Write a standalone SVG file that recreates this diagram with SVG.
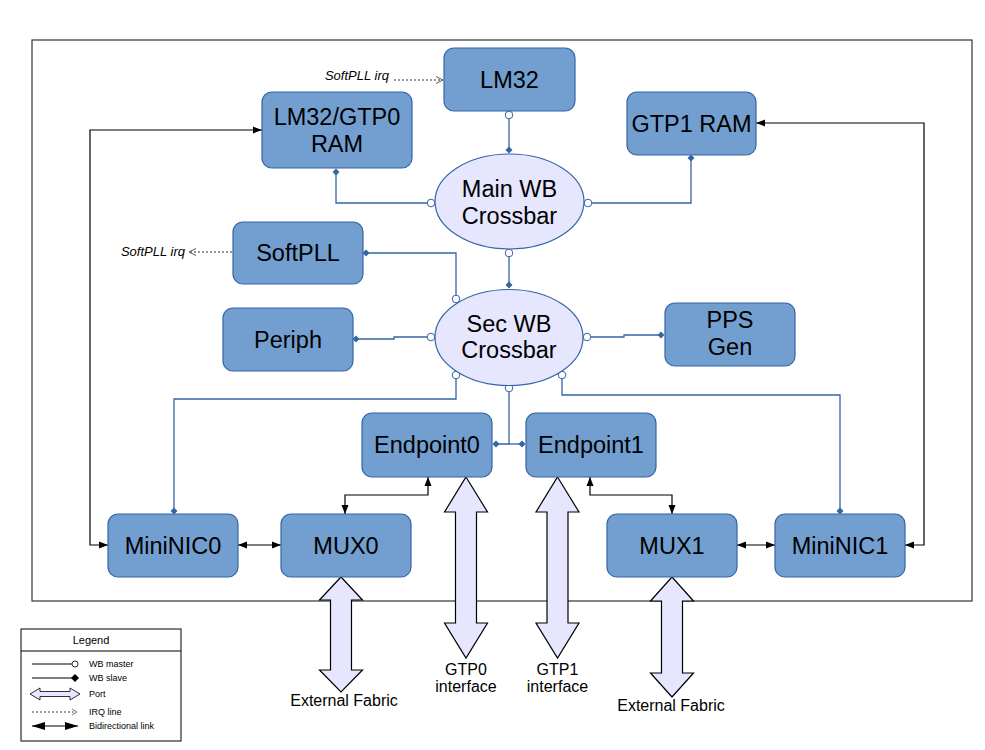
<svg xmlns="http://www.w3.org/2000/svg" width="985" height="750" viewBox="0 0 985 750">
<style>
.node{fill:#729fcf;stroke:#3465a4;stroke-width:1.2}
.xbar{fill:#e6e6ff;stroke:#3465a4;stroke-width:1.2}
.lbl{font-family:"Liberation Sans",Arial,sans-serif;font-size:23.5px;fill:#000;text-anchor:middle}
.wb{fill:none;stroke:#3465a4;stroke-width:1.3;marker-start:url(#master);marker-end:url(#slave)}
.wbs{fill:none;stroke:#3465a4;stroke-width:1.3;marker-end:url(#slave)}
.bi{fill:none;stroke:#000;stroke-width:1.2;marker-start:url(#arr);marker-end:url(#arr)}
.irq{fill:none;stroke:#333;stroke-width:1;stroke-dasharray:2,2;marker-end:url(#open)}
.port{fill:#e6e6ff;stroke:#000;stroke-width:1.2}
.ital{font-family:"Liberation Sans",Arial,sans-serif;font-size:13px;font-style:italic;fill:#000}
.ext{font-family:"Liberation Sans",Arial,sans-serif;font-size:16px;fill:#000;text-anchor:middle}
.leg{font-family:"Liberation Sans",Arial,sans-serif;font-size:9px;fill:#000}
</style>
<defs>
<marker id="master" markerUnits="userSpaceOnUse" markerWidth="10" markerHeight="10" refX="5" refY="5" orient="auto"><circle cx="5" cy="5" r="3.8" fill="#fff" stroke="#3465a4" stroke-width="1"/></marker>
<marker id="slave" markerUnits="userSpaceOnUse" markerWidth="10" markerHeight="10" refX="5" refY="5" orient="auto"><path d="M1.5,5 L5,1.5 L8.5,5 L5,8.5 z" fill="#3465a4"/></marker>
<marker id="arr" markerUnits="userSpaceOnUse" markerWidth="10" markerHeight="8" refX="9" refY="4" orient="auto-start-reverse"><path d="M0,0.5 L9,4 L0,7.5 z" fill="#000"/></marker>
<marker id="open" markerUnits="userSpaceOnUse" markerWidth="9" markerHeight="9" refX="8" refY="4.5" orient="auto"><path d="M1,1 L8,4.5 L1,8" fill="none" stroke="#555" stroke-width="1"/></marker>
<marker id="marrL" markerUnits="userSpaceOnUse" markerWidth="14" markerHeight="10" refX="13" refY="5" orient="auto-start-reverse"><path d="M0,1 L13,5 L0,9 z" fill="#000"/></marker>
</defs>
<rect x="0" y="0" width="985" height="750" fill="#fff"/>
<rect id="frame" x="32" y="40" width="940" height="561" fill="none" stroke="#333" stroke-width="1.2"/>

<g id="connectors">
<path class="wb" d="M509,115 V150"/>
<path class="wb" d="M431,203 H336 V172"/>
<path class="wb" d="M588,203 H691 V158"/>
<path class="wb" d="M509,253 V285"/>
<path class="wb" d="M456,299 V253 H366"/>
<path class="wb" d="M431,337 H394 V339 H356"/>
<path class="wb" d="M587,337 H624 V335 H661"/>
<path class="wb" d="M456,375 V399 H174 V511"/>
<path class="wb" d="M562,375 V395 H840 V511"/>
<path class="wb" d="M509,388 V444 H496"/>
<path class="wbs" d="M509,444 H522"/>
<path class="bi" d="M262,130 H90 V545 H108"/>
<path class="bi" d="M756,123 H924 V545 H905"/>
<path class="bi" d="M238,545 H281"/>
<path class="bi" d="M737,545 H775"/>
<path class="bi" d="M345,514 V495 H428 V477"/>
<path class="bi" d="M590,477 V495 H672 V514"/>
<path class="irq" d="M394,80 H443"/>
<path class="irq" d="M232,252 H189"/>
<polygon class="port" points="341,577 362.5,600 351.5,600 351.5,670 362.5,670 341,692 319.5,670 330.5,670 330.5,600 319.5,600"/>
<polygon class="port" points="466,477 487.5,512 476.5,512 476.5,623 487.5,623 466,658 444.5,623 455.5,623 455.5,512 444.5,512"/>
<polygon class="port" points="557.5,477 579,512 568,512 568,623 579,623 557.5,658 536,623 547,623 547,512 536,512"/>
<polygon class="port" points="672,577 693.5,601 682.5,601 682.5,673 693.5,673 672,697 650.5,673 661.5,673 661.5,601 650.5,601"/>
</g>

<g id="lm32"><rect class="node" x="444" y="48" width="131" height="63" rx="10"/><text class="lbl" x="509.5" y="88">LM32</text></g>
<g id="lm32ram"><rect class="node" x="262" y="92" width="150" height="76" rx="10"/><text class="lbl" x="337" y="125">LM32/GTP0</text><text class="lbl" x="337" y="152">RAM</text></g>
<g id="gtp1ram"><rect class="node" x="627" y="92" width="129" height="63" rx="10"/><text class="lbl" x="691.5" y="132">GTP1 RAM</text></g>
<g id="mainxbar"><ellipse class="xbar" cx="509.5" cy="201.5" rx="74.5" ry="47.5"/><text class="lbl" x="509.5" y="197">Main WB</text><text class="lbl" x="509.5" y="224">Crossbar</text></g>
<g id="softpll"><rect class="node" x="233" y="222" width="130" height="62" rx="10"/><text class="lbl" x="298" y="261">SoftPLL</text></g>
<g id="periph"><rect class="node" x="223" y="308" width="130" height="63" rx="10"/><text class="lbl" x="288" y="348">Periph</text></g>
<g id="secxbar"><ellipse class="xbar" cx="509" cy="337.5" rx="74" ry="48"/><text class="lbl" x="509" y="332">Sec WB</text><text class="lbl" x="509" y="358">Crossbar</text></g>
<g id="ppsgen"><rect class="node" x="665" y="303" width="130" height="63" rx="10"/><text class="lbl" x="730" y="328">PPS</text><text class="lbl" x="730" y="355">Gen</text></g>
<g id="endpoint0"><rect class="node" x="362" y="413" width="130" height="64" rx="10"/><text class="lbl" x="427" y="453">Endpoint0</text></g>
<g id="endpoint1"><rect class="node" x="526" y="413" width="130" height="64" rx="10"/><text class="lbl" x="591" y="453">Endpoint1</text></g>
<g id="mininic0"><rect class="node" x="108" y="514" width="130" height="63" rx="10"/><text class="lbl" x="173" y="554">MiniNIC0</text></g>
<g id="mux0"><rect class="node" x="281" y="514" width="130" height="63" rx="10"/><text class="lbl" x="346" y="554">MUX0</text></g>
<g id="mux1"><rect class="node" x="607" y="514" width="130" height="63" rx="10"/><text class="lbl" x="672" y="554">MUX1</text></g>
<g id="mininic1"><rect class="node" x="775" y="514" width="130" height="63" rx="10"/><text class="lbl" x="840" y="554">MiniNIC1</text></g>

<g id="labels">
<text class="ital" x="389" y="80" text-anchor="end">SoftPLL irq</text>
<text class="ital" x="185" y="256" text-anchor="end">SoftPLL irq</text>
<text class="ext" x="344" y="706">External Fabric</text>
<text class="ext" x="466" y="675">GTP0</text>
<text class="ext" x="466" y="692">interface</text>
<text class="ext" x="557.5" y="675">GTP1</text>
<text class="ext" x="557.5" y="692">interface</text>
<text class="ext" x="671" y="711">External Fabric</text>
</g>

<g id="legend">
<rect x="21" y="629" width="160" height="112" fill="#fff" stroke="#000" stroke-width="1"/>
<line x1="21" y1="651" x2="181" y2="651" stroke="#000" stroke-width="1"/>
<text x="91" y="644" text-anchor="middle" style="font-family:'Liberation Sans',Arial,sans-serif;font-size:11px">Legend</text>
<line x1="32" y1="664" x2="72" y2="664" stroke="#000" stroke-width="1"/>
<circle cx="75" cy="664" r="3" fill="#fff" stroke="#000" stroke-width="0.8"/>
<line x1="32" y1="678" x2="73" y2="678" stroke="#000" stroke-width="1"/>
<path d="M71,678 L75,674 L79,678 L75,682 z" fill="#000"/>
<polygon points="30,694 40,688 40,691.5 70,691.5 70,688 80,694 70,700 70,696.5 40,696.5 40,700" fill="#e6e6ff" stroke="#000" stroke-width="0.8"/>
<path d="M32,712 H76" fill="none" stroke="#444" stroke-width="1" stroke-dasharray="2,2"/>
<path d="M72,709 L77,712 L72,715" fill="none" stroke="#555" stroke-width="0.8"/>
<path d="M32,726 H78" fill="none" stroke="#000" stroke-width="1.2" marker-start="url(#marrL)" marker-end="url(#marrL)"/>
<text class="leg" x="89" y="667">WB master</text>
<text class="leg" x="89" y="681">WB slave</text>
<text class="leg" x="89" y="697">Port</text>
<text class="leg" x="89" y="715">IRQ line</text>
<text class="leg" x="89" y="729">Bidirectional link</text>
</g>
</svg>
